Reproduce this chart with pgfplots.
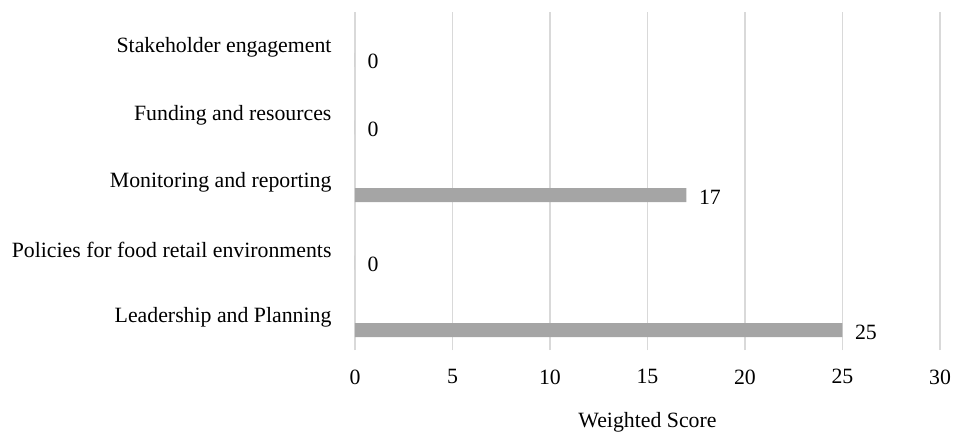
\documentclass[border=0pt]{standalone}
\usepackage{fontspec}
\setmainfont{Liberation Serif}
\usepackage{pgfplots}
\pgfplotsset{compat=1.18}
\definecolor{bargray}{HTML}{A5A5A5}
\definecolor{gridgray}{HTML}{D9D9D9}
\begin{document}
\begin{tikzpicture}[font=\fontsize{21.8bp}{25bp}\selectfont]
\begin{axis}[
 at={(0,0)}, anchor=south west,
 scale only axis, width=585bp, height=338bp,
 xbar, xmin=0, xmax=30, ymin=-0.5, ymax=4.5,
 xtick={0,5,...,30}, ytick={0,...,4},
 yticklabels={Leadership and Planning, Policies for food retail environments, Monitoring and reporting, Funding and resources, Stakeholder engagement},
 axis line style={draw=none}, major tick length=0pt,
 xmajorgrids, major grid style={gridgray, line width=1.5bp},
 bar width=14bp, bar shift=-14bp,
 nodes near coords, nodes near coords style={anchor=west, xshift=9bp, yshift=-2bp},
 point meta=x,
 xlabel={Weighted Score},
 xticklabel style={yshift=-16bp},
 yticklabel style={xshift=-20bp, yshift=-1.5bp},
 xlabel style={at={(axis description cs:0.5,0)}, anchor=center, yshift=-72bp},
 /pgf/number format/assume math mode=true,
 clip=false,
]
\addplot[fill=bargray, draw=none] coordinates {(25,0) (0,1) (17,2) (0,3) (0,4)};
\end{axis}
\pgfresetboundingbox
\path[use as bounding box] (-355bp,-83bp) rectangle (600bp,350bp);
\end{tikzpicture}
\end{document}
